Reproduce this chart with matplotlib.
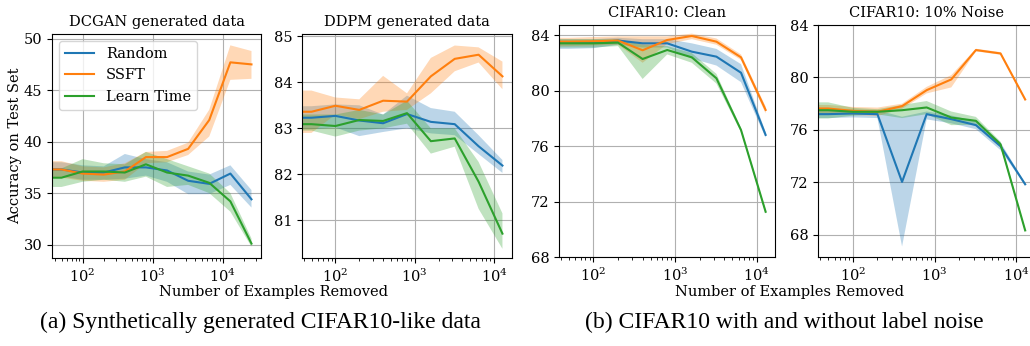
import numpy as np
import matplotlib.pyplot as plt

plt.rcParams['font.family'] = 'DejaVu Serif'
plt.rcParams['font.size'] = 10.5

# number of examples removed (0 = baseline, nothing removed)
x_long = [0, 50, 100, 200, 400, 800, 1600, 3200, 6400, 12800, 25600]
x_short = [0, 50, 100, 200, 400, 800, 1600, 3200, 6400, 12800]

# DCGAN generated data: mean, lower, upper
dcgan_random = [37.3, 37.3, 37.0, 37.0, 37.5, 37.5, 37.2, 36.2, 35.9, 36.9, 34.4]
dcgan_random_lo = [36.6, 36.6, 36.3, 36.3, 36.4, 36.7, 36.1, 34.9, 34.9, 35.8, 33.6]
dcgan_random_hi = [38.0, 38.0, 37.7, 37.6, 38.8, 38.3, 38.0, 37.1, 36.8, 37.7, 35.3]
dcgan_ssft = [37.3, 37.3, 36.9, 36.8, 37.1, 38.5, 38.5, 39.3, 42.1, 47.7, 47.5]
dcgan_ssft_lo = [36.5, 36.5, 36.2, 36.1, 36.3, 37.9, 38.0, 38.7, 40.5, 46.0, 46.1]
dcgan_ssft_hi = [38.1, 38.1, 37.6, 37.5, 37.9, 39.0, 39.1, 39.9, 43.1, 49.35, 48.8]
dcgan_learn = [36.5, 36.5, 37.1, 37.1, 37.0, 37.8, 37.0, 36.7, 36.0, 34.2, 30.1]
dcgan_learn_lo = [35.6, 35.6, 36.1, 36.3, 36.1, 36.6, 35.6, 35.8, 35.0, 33.2, 29.8]
dcgan_learn_hi = [37.4, 37.4, 38.3, 37.9, 37.8, 39.0, 38.3, 37.6, 36.9, 35.0, 30.6]

# DDPM generated data
ddpm_random = [83.23, 83.23, 83.27, 83.17, 83.11, 83.31, 83.14, 83.09, 82.61, 82.19]
ddpm_random_lo = [82.98, 82.98, 83.02, 82.83, 82.92, 83.0, 82.89, 82.85, 82.44, 82.03]
ddpm_random_hi = [83.48, 83.48, 83.52, 83.5, 83.3, 83.71, 83.44, 83.36, 82.85, 82.31]
ddpm_ssft = [83.36, 83.36, 83.49, 83.40, 83.60, 83.58, 84.13, 84.51, 84.60, 84.13]
ddpm_ssft_lo = [82.9, 82.9, 83.3, 83.2, 83.36, 83.4, 83.76, 84.24, 84.43, 83.85]
ddpm_ssft_hi = [83.82, 83.82, 83.67, 83.63, 84.14, 83.76, 84.53, 84.8, 84.76, 84.45]
ddpm_learn = [83.09, 83.09, 83.05, 83.18, 83.16, 83.33, 82.72, 82.78, 81.84, 80.71]
ddpm_learn_lo = [82.95, 82.95, 82.82, 82.95, 83.0, 83.1, 82.45, 82.6, 81.25, 80.38]
ddpm_learn_hi = [83.3, 83.3, 83.3, 83.4, 83.3, 83.6, 83.0, 83.0, 82.27, 81.15]

# CIFAR10 clean
clean_random = [83.45, 83.45, 83.45, 83.6, 83.4, 83.4, 82.8, 82.44, 81.28, 76.8]
clean_random_lo = [83.0, 83.0, 83.05, 83.3, 83.1, 83.1, 82.3, 81.8, 80.6, 76.6]
clean_random_hi = [83.7, 83.7, 83.7, 83.8, 83.7, 83.7, 83.4, 83.0, 81.9, 77.0]
clean_ssft = [83.52, 83.52, 83.55, 83.6, 82.9, 83.64, 83.93, 83.52, 82.39, 78.6]
clean_ssft_lo = [83.2, 83.2, 83.25, 83.3, 82.0, 83.35, 83.7, 83.3, 82.2, 78.35]
clean_ssft_hi = [83.8, 83.8, 83.85, 83.9, 83.9, 83.9, 84.1, 83.75, 82.6, 78.85]
clean_learn = [83.4, 83.4, 83.4, 83.45, 82.27, 82.92, 82.39, 80.88, 77.15, 71.26]
clean_learn_lo = [83.1, 83.1, 83.1, 83.2, 80.83, 82.6, 82.0, 80.5, 77.0, 71.1]
clean_learn_hi = [83.7, 83.7, 83.7, 83.7, 83.3, 83.2, 82.7, 81.2, 77.3, 71.4]

# CIFAR10 10% label noise
noise_random = [77.2, 77.2, 77.25, 77.2, 72.03, 77.2, 76.82, 76.36, 74.75, 71.85]
noise_random_lo = [76.9, 76.9, 76.95, 76.9, 67.1, 76.8, 76.5, 76.05, 74.45, 71.75]
noise_random_hi = [77.5, 77.5, 77.55, 77.5, 77.0, 77.4, 77.1, 76.65, 75.05, 71.95]
noise_ssft = [77.63, 77.63, 77.45, 77.38, 77.81, 79.03, 79.85, 82.09, 81.83, 78.32]
noise_ssft_lo = [77.25, 77.25, 77.15, 77.05, 77.6, 78.78, 79.24, 81.99, 81.73, 78.22]
noise_ssft_hi = [77.9, 77.9, 77.75, 77.7, 78.0, 79.28, 80.18, 82.19, 81.93, 78.42]
noise_learn = [77.5, 77.5, 77.38, 77.38, 77.5, 77.71, 76.94, 76.69, 74.9, 68.33]
noise_learn_lo = [76.87, 76.87, 77.08, 77.18, 76.9, 77.2, 76.36, 76.39, 74.7, 68.23]
noise_learn_hi = [78.1, 78.1, 77.68, 77.58, 77.9, 78.2, 77.4, 76.99, 75.1, 68.43]

names = ['Random', 'SSFT', 'Learn Time']
colors = ['tab:blue', 'tab:orange', 'tab:green']

panels = [
    ('DCGAN generated data', x_long,
     [(dcgan_random, dcgan_random_lo, dcgan_random_hi),
      (dcgan_ssft, dcgan_ssft_lo, dcgan_ssft_hi),
      (dcgan_learn, dcgan_learn_lo, dcgan_learn_hi)],
     [30, 35, 40, 45, 50], (28.7, 50.45), (36.6, 35000)),
    ('DDPM generated data', x_short,
     [(ddpm_random, ddpm_random_lo, ddpm_random_hi),
      (ddpm_ssft, ddpm_ssft_lo, ddpm_ssft_hi),
      (ddpm_learn, ddpm_learn_lo, ddpm_learn_hi)],
     [81, 82, 83, 84, 85], (80.18, 85.05), (37.9, 16900)),
    ('CIFAR10: Clean', x_short,
     [(clean_random, clean_random_lo, clean_random_hi),
      (clean_ssft, clean_ssft_lo, clean_ssft_hi),
      (clean_learn, clean_learn_lo, clean_learn_hi)],
     [68, 72, 76, 80, 84], (68, 84.72), (37.9, 16900)),
    ('CIFAR10: 10% Noise', x_short,
     [(noise_random, noise_random_lo, noise_random_hi),
      (noise_ssft, noise_ssft_lo, noise_ssft_hi),
      (noise_learn, noise_learn_lo, noise_learn_hi)],
     [68, 72, 76, 80, 84], (66.3, 84), (37.9, 16900)),
]

rects = [
    [0.0505, 0.2543, 0.2029, 0.6474],
    [0.2932, 0.2543, 0.2039, 0.6474],
    [0.5427, 0.2572, 0.2102, 0.6705],
    [0.7945, 0.2572, 0.2104, 0.6705],
]

fig = plt.figure(figsize=(10.3, 3.46), dpi=100)

for rect, (title, xs, series, yticks, ylim, xlim) in zip(rects, panels):
    ax = fig.add_axes(rect)
    ax.set_xscale('log')
    for (m, lo, hi), name, c in zip(series, names, colors):
        ax.fill_between(xs, lo, hi, color=c, alpha=0.3, linewidth=0)
        ax.plot(xs, m, color=c, label=name, linewidth=1.5)
    ax.set_xlim(*xlim)
    ax.set_ylim(*ylim)
    ax.set_yticks(yticks)
    ax.set_title(title, fontsize=10.5)
    ax.grid(True, which='major', color='#b0b0b0', linewidth=0.8)
    ax.set_axisbelow(True)
    if title.startswith('DCGAN'):
        ax.set_ylabel('Accuracy on Test Set')
        ax.yaxis.set_label_coords(-0.144, 0.5)
        ax.legend(loc='upper left', fontsize=10.5)

fig.text(0.266, 0.156, 'Number of Examples Removed', ha='center', va='center', fontsize=10.5)
fig.text(0.7665, 0.156, 'Number of Examples Removed', ha='center', va='center', fontsize=10.5)

fig.text(0.2525, 0.068, '(a) Synthetically generated CIFAR10-like data', ha='center', va='center',
         family='Liberation Serif', fontsize=17)
fig.text(0.761, 0.068, '(b) CIFAR10 with and without label noise', ha='center', va='center',
         family='Liberation Serif', fontsize=17)

fig.savefig('out.png', dpi=100)
